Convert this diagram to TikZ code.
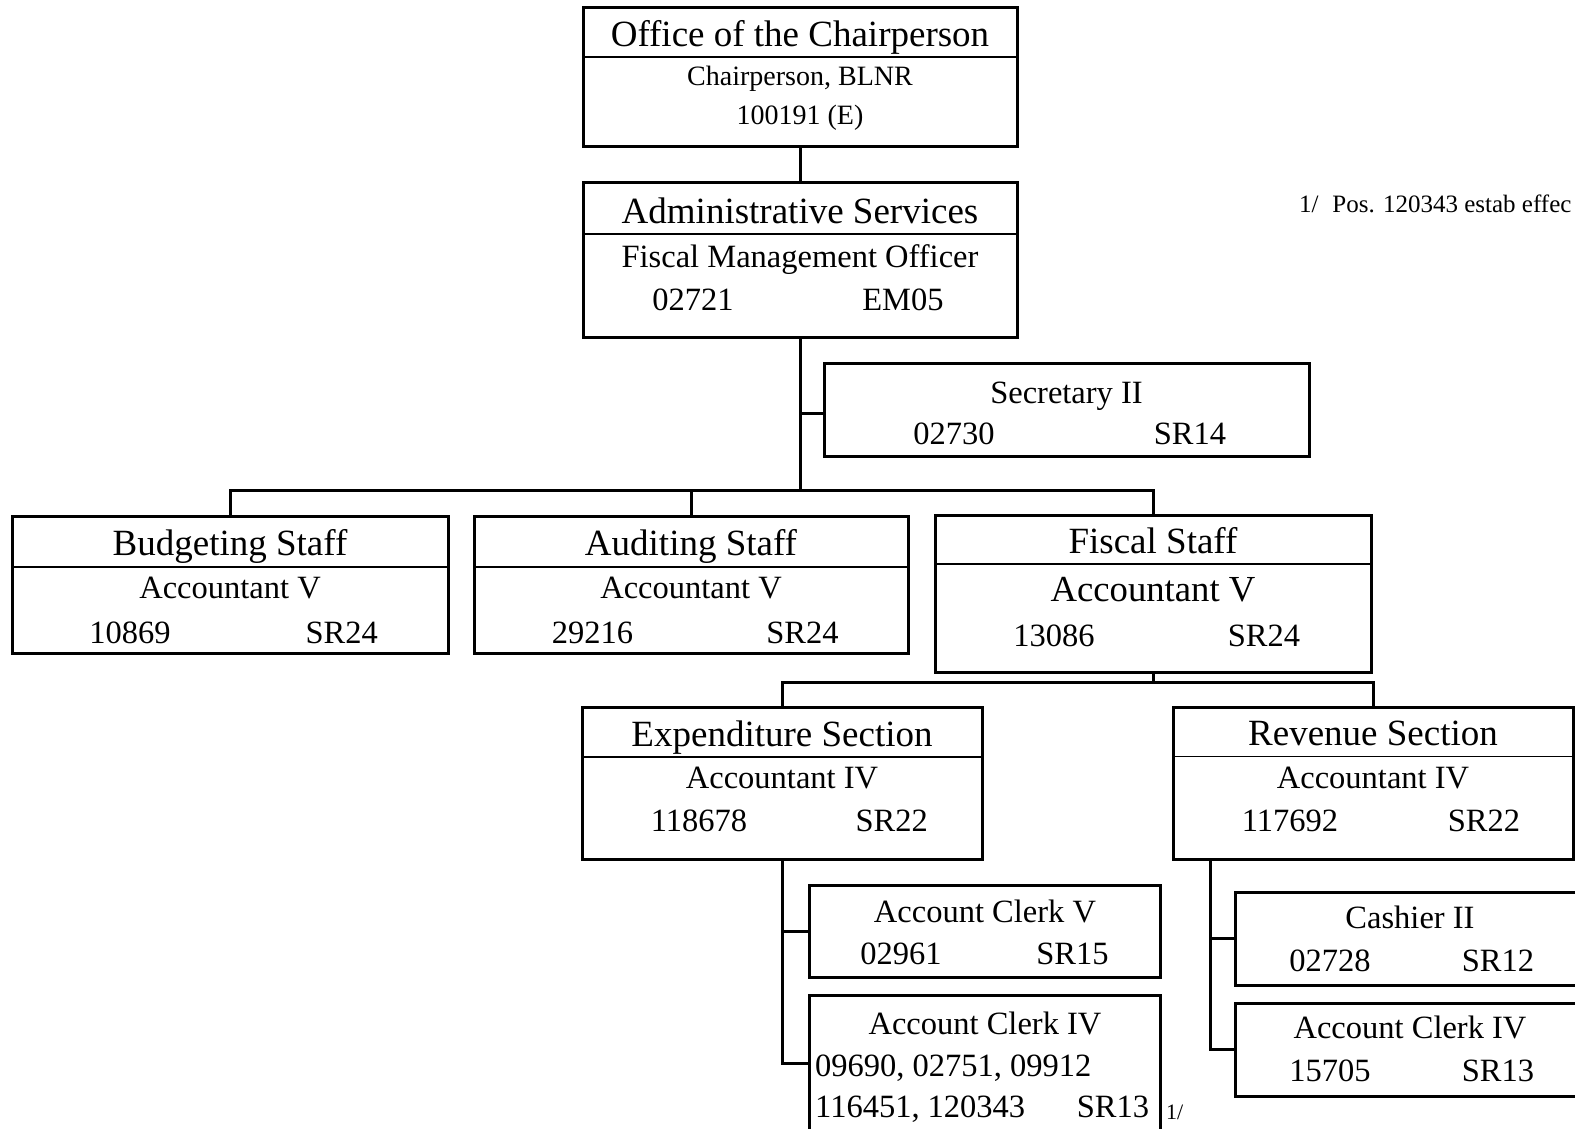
\documentclass[tikz,border=0pt]{standalone}
\usepackage{fontspec}
\setmainfont{Liberation Serif}
\begin{document}
\begin{tikzpicture}[x=1pt,y=-1pt,
  box/.style={draw, line width=3pt, rectangle, inner sep=0pt},
  div/.style={line width=1.4pt},
  conn/.style={line width=3pt},
  lbl/.style={anchor=base, inner sep=0pt},
  lblw/.style={anchor=base west, inner sep=0pt},
  ttl/.style={lbl, font=\fontsize{37}{40}\selectfont},
  sub/.style={lbl, font=\fontsize{32.5}{36}\selectfont},
  subw/.style={lblw, font=\fontsize{32.5}{36}\selectfont},
  small/.style={lbl, font=\fontsize{28}{32}\selectfont},
  big/.style={lbl, font=\fontsize{36.7}{40}\selectfont}]
\useasboundingbox (0,0) rectangle (1575,1129);
\fill[white] (0,0) rectangle (1575,1129);
\clip (0,0) rectangle (1575,1129);

% ---------- boxes ----------
\node[box, minimum width=434pt, minimum height=139pt] (top) at (800,77.5) {};
\node[box, minimum width=434pt, minimum height=154pt] (admin) at (800,260) {};
\node[box, minimum width=485pt, minimum height=93pt] (sec) at (1066.5,410) {};
\node[box, minimum width=436pt, minimum height=137pt] (budget) at (230,584.5) {};
\node[box, minimum width=434pt, minimum height=137pt] (audit) at (691,584.5) {};
\node[box, minimum width=436pt, minimum height=157pt] (fiscal) at (1153,593.5) {};
\node[box, minimum width=400pt, minimum height=152pt] (exp) at (782,783) {};
\node[box, minimum width=400pt, minimum height=152pt] (rev) at (1373,783) {};
\node[box, minimum width=351pt, minimum height=92pt] (clerkv) at (984.5,931) {};
\node[box, minimum width=351pt, minimum height=136pt] (clerkiv) at (984.5,1063) {};
\node[box, minimum width=350pt, minimum height=93pt] (cashier) at (1410,938.5) {};
\node[box, minimum width=350pt, minimum height=93pt] (rclerk) at (1410,1049.5) {};

% ---------- header dividers ----------
\draw[div] (583,57) -- (1017,57);
\draw[div] (583,234) -- (1017,234);
\draw[div] (12,567) -- (448,567);
\draw[div] (474,567) -- (908,567);
\draw[div] (935,564) -- (1371,564);
\draw[div] (582,757) -- (982,757);
\draw[div] (1173,756.5) -- (1573,756.5);

% ---------- texts ----------
\node[ttl] (topT) at (800,47) {Office of the Chairperson};
\node[small] (topA) at (800,86) {Chairperson, BLNR};
\node[small] (topB) at (800,125) {100191 (E)};

\node[ttl] (adT) at (800,223) {Administrative Services};
\node[sub] (adA) at (800,267) {Fiscal Management Officer};
\node[sub] (adN) at (693,310) {02721};
\node[sub] (adS) at (903,310) {EM05};

\node[sub] (seA) at (1066.5,403) {Secretary II};
\node[sub] (seN) at (954,444) {02730};
\node[sub] (seS) at (1190,444) {SR14};

\node[ttl] (buT) at (230,555) {Budgeting Staff};
\node[sub] (buA) at (230,598) {Accountant V};
\node[sub] (buN) at (130,643) {10869};
\node[sub] (buS) at (341.7,643) {SR24};

\node[ttl] (auT) at (691,555) {Auditing Staff};
\node[sub] (auA) at (691,598) {Accountant V};
\node[sub] (auN) at (592.5,643) {29216};
\node[sub] (auS) at (802.5,643) {SR24};

\node[ttl] (fiT) at (1153,553) {Fiscal Staff};
\node[big] (fiA) at (1153,601.7) {Accountant V};
\node[sub] (fiN) at (1054,646.7) {13086};
\node[sub] (fiS) at (1264,646.7) {SR24};

\node[ttl] (exT) at (782,746.7) {Expenditure Section};
\node[sub] (exA) at (782,788.3) {Accountant IV};
\node[sub] (exN) at (699,831.7) {118678};
\node[sub] (exS) at (891.7,831.7) {SR22};

\node[ttl] (reT) at (1373,745) {Revenue Section};
\node[sub] (reA) at (1373,788.3) {Accountant IV};
\node[sub] (reN) at (1290,831.7) {117692};
\node[sub] (reS) at (1484,831.7) {SR22};

\node[sub] (cvA) at (985,922) {Account Clerk V};
\node[sub] (cvN) at (901,964) {02961};
\node[sub] (cvS) at (1072.5,964) {SR15};

\node[sub] (c4A) at (985,1034) {Account Clerk IV};
\node[subw] (c4L1) at (815,1076) {09690, 02751, 09912};
\node[subw] (c4L2) at (815,1117) {116451, 120343};
\node[sub] (c4S) at (1113,1117) {SR13};
\node[lblw, font=\fontsize{22}{24}\selectfont] (c4note) at (1166,1119) {1/};

\node[sub] (caA) at (1410,928.3) {Cashier II};
\node[sub] (caN) at (1330,971.7) {02728};
\node[sub] (caS) at (1498,971.7) {SR12};

\node[sub] (rcA) at (1410,1038.3) {Account Clerk IV};
\node[sub] (rcN) at (1330,1081.7) {15705};
\node[sub] (rcS) at (1498,1081.7) {SR13};

\node[lblw, font=\fontsize{25}{28}\selectfont] (note) at (1299,212) {1/\hspace{0.55em}Pos. 120343 estab effec};

% ---------- connectors ----------
\coordinate (bar) at (800,490);
\coordinate (fbar) at (1153,682);
\coordinate (secin) at ([yshift=-3pt]sec.west);
\coordinate (rvt) at (1210,859);

\draw[conn] (top.south) -- (admin.north);
\draw[conn] (admin.south) -- (bar);
\draw[conn] (secin) -- (secin -| admin.south);
\draw[conn] (budget.north) |- (bar) -| (fiscal.north);
\draw[conn] (audit.north) -- (audit.north |- bar);
\draw[conn] (fiscal.south) -- (fbar);
\draw[conn] (exp.north) |- (fbar) -| (rev.north);
\draw[conn] (exp.south) |- (clerkv.west);
\draw[conn] (exp.south) |- (clerkiv.west);
\draw[conn] (rvt) |- (cashier.west);
\draw[conn] (rvt) |- (rclerk.west);
\end{tikzpicture}
\end{document}
